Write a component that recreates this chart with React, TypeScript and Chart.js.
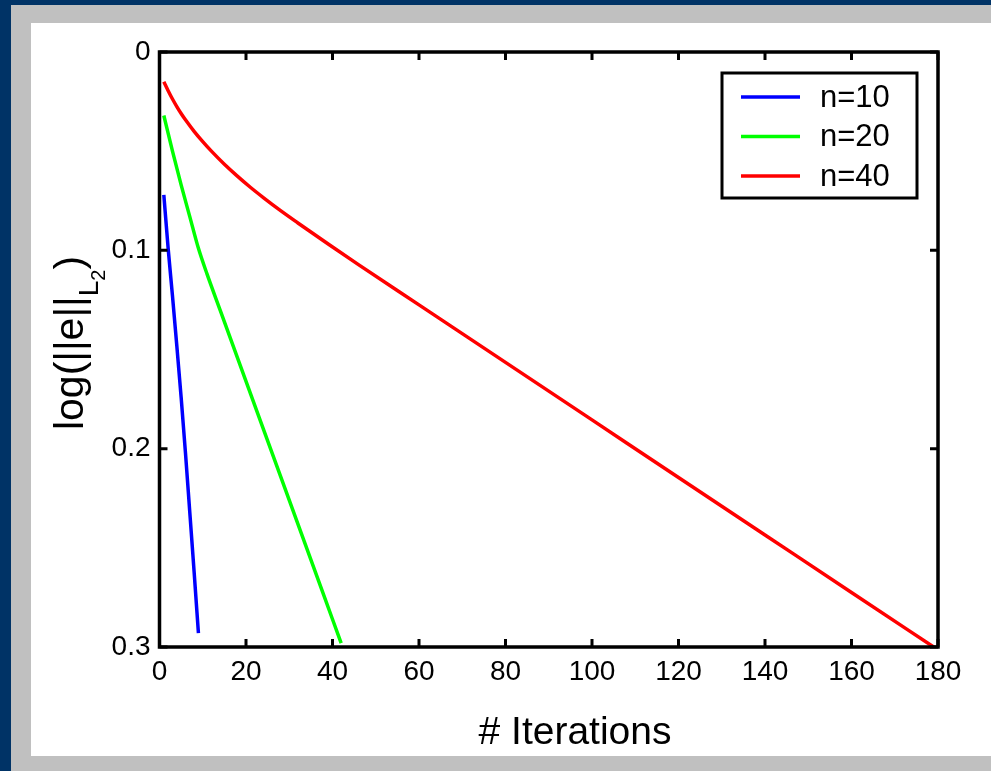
import React, { useEffect, useRef } from "react";
import { Chart, registerables } from "chart.js";

Chart.register(...registerables);

const FONT = "'Liberation Sans', Arial, Helvetica, sans-serif";

const xTickValues = [0, 20, 40, 60, 80, 100, 120, 140, 160, 180];
const yTickValues = [0, 0.1, 0.2, 0.3];

const seriesLabels = ["n=10", "n=20", "n=40"];
const seriesColors = ["#0000ff", "#00ff00", "#ff0000"];

const blueX = [1, 2, 3, 4, 5, 6, 7, 8, 9];
const blueY = [0.072, 0.099, 0.123, 0.148, 0.174, 0.202, 0.232, 0.262, 0.293];

const greenX = [1, 3, 5, 7, 9, 11, 14, 19, 24, 28, 33, 38, 42];
const greenY = [0.032, 0.05, 0.067, 0.083, 0.099, 0.112, 0.13, 0.16, 0.19, 0.214, 0.244, 0.274, 0.298];

const redX = [1, 2, 3, 4, 5, 6, 8, 10, 12, 15, 18, 21, 24, 28, 32, 39, 46, 60, 80, 100, 120, 140, 160, 179];
const redY = [0.015, 0.0195, 0.0237, 0.0275, 0.031, 0.0342, 0.04, 0.0452, 0.05, 0.0566, 0.0626, 0.0682, 0.0734, 0.08, 0.0862, 0.0968, 0.1072, 0.1275, 0.1565, 0.1855, 0.2145, 0.2435, 0.2725, 0.3];

const xTitle = "# Iterations";

const pts = (xs: number[], ys: number[]) => xs.map((x, i) => ({ x, y: ys[i] }));

const framePlugin = {
  id: "frame",
  afterDatasetsDraw(chart: any) {
    const { ctx, chartArea: a, scales } = chart;
    const xs = scales.x;
    const ys = scales.y;
    ctx.save();
    ctx.strokeStyle = "#000";
    ctx.lineWidth = 3.5;
    ctx.lineJoin = "miter";
    ctx.strokeRect(a.left, a.top, a.right - a.left, a.bottom - a.top);
    ctx.lineWidth = 3;
    const tl = 8;
    ctx.beginPath();
    xTickValues.forEach((v) => {
      const px = xs.getPixelForValue(v);
      ctx.moveTo(px, a.bottom);
      ctx.lineTo(px, a.bottom - tl);
      ctx.moveTo(px, a.top);
      ctx.lineTo(px, a.top + tl);
    });
    yTickValues.forEach((v) => {
      const py = ys.getPixelForValue(v);
      ctx.moveTo(a.left, py);
      ctx.lineTo(a.left + tl, py);
      ctx.moveTo(a.right, py);
      ctx.lineTo(a.right - tl, py);
    });
    ctx.stroke();
    ctx.restore();
  },
  afterDraw(chart: any) {
    const { ctx, chartArea: a } = chart;
    ctx.save();
    // Legend
    const bx = a.right - 216;
    const by = a.top + 21;
    const bw = 195;
    const bh = 125;
    ctx.fillStyle = "#fff";
    ctx.fillRect(bx, by, bw, bh);
    ctx.strokeStyle = "#000";
    ctx.lineWidth = 3;
    ctx.strokeRect(bx, by, bw, bh);
    chart.data.datasets.forEach((ds: any, i: number) => {
      const y = by + 24 + i * 39.5;
      ctx.strokeStyle = ds.borderColor;
      ctx.lineWidth = 3.5;
      ctx.beginPath();
      ctx.moveTo(bx + 19, y);
      ctx.lineTo(bx + 78, y);
      ctx.stroke();
      ctx.fillStyle = "#000";
      ctx.font = `31px ${FONT}`;
      ctx.textBaseline = "middle";
      ctx.textAlign = "left";
      ctx.fillText(ds.label, bx + 98, y + 1);
    });

    // X title
    ctx.fillStyle = "#000";
    ctx.font = `39px ${FONT}`;
    ctx.textAlign = "center";
    ctx.textBaseline = "middle";
    ctx.fillText(xTitle, 544, 710);

    // Y title with subscripts: log(||e||_{L_2})
    const parts = [
      { t: "log(||e||", size: 41, dy: 0 },
      { t: "L", size: 28, dy: 15 },
      { t: "2", size: 20, dy: 22 },
      { t: ")", size: 41, dy: 0 },
    ];
    let total = 0;
    parts.forEach((p) => {
      ctx.font = `${p.size}px ${FONT}`;
      total += ctx.measureText(p.t).width;
    });
    ctx.translate(52, 320);
    ctx.rotate(-Math.PI / 2);
    ctx.textAlign = "left";
    ctx.textBaseline = "alphabetic";
    let x = -total / 2;
    parts.forEach((p) => {
      ctx.font = `${p.size}px ${FONT}`;
      ctx.fillText(p.t, x, p.dy);
      x += ctx.measureText(p.t).width;
    });
    ctx.restore();
  },
};

export default function App() {
  const ref = useRef<HTMLCanvasElement>(null);
  useEffect(() => {
    const seriesX = [blueX, greenX, redX];
    const seriesY = [blueY, greenY, redY];
    const chart = new Chart(ref.current as HTMLCanvasElement, {
      type: "line",
      data: {
        datasets: seriesLabels.map((label, i) => ({
          label,
          data: pts(seriesX[i], seriesY[i]),
          borderColor: seriesColors[i],
          backgroundColor: seriesColors[i],
          borderWidth: 3.5,
          pointRadius: 0,
          cubicInterpolationMode: "monotone",
          fill: false,
        })),
      },
      options: {
        responsive: false,
        devicePixelRatio: 1,
        animation: false,
        layout: { padding: { left: 0, top: 29, right: 53, bottom: 0 } },
        plugins: { legend: { display: false }, tooltip: { enabled: false } },
        scales: {
          x: {
            type: "linear",
            min: 0,
            max: 180,
            grid: { display: false, drawTicks: false },
            border: { display: false },
            ticks: {
              stepSize: 20,
              autoSkip: false,
              maxRotation: 0,
              padding: 8,
              color: "#000",
              font: { size: 28, family: FONT },
            },
            afterFit: (s: any) => {
              s.height = 109;
            },
          },
          y: {
            type: "linear",
            reverse: true,
            min: 0,
            max: 0.3,
            grid: { display: false, drawTicks: false },
            border: { display: false },
            ticks: {
              stepSize: 0.1,
              padding: 9,
              color: "#000",
              font: { size: 28, family: FONT },
              callback: (v: any) => String(Math.round(Number(v) * 10) / 10),
            },
            afterFit: (s: any) => {
              s.width = 128.5;
            },
          },
        },
      } as any,
      plugins: [framePlugin],
    });
    return () => chart.destroy();
  }, []);

  return (
    <div
      style={{
        position: "fixed",
        left: 0,
        top: 0,
        width: 991,
        height: 771,
        background: "#003366",
        overflow: "hidden",
      }}
    >
      <div style={{ position: "absolute", left: 11, top: 5, right: 0, bottom: 0, background: "#c0c0c0" }} />
      <div style={{ position: "absolute", left: 31, top: 23, width: 960, height: 733, background: "#ffffff" }}>
        <canvas ref={ref} width={960} height={733} style={{ display: "block", width: 960, height: 733 }} />
      </div>
    </div>
  );
}
